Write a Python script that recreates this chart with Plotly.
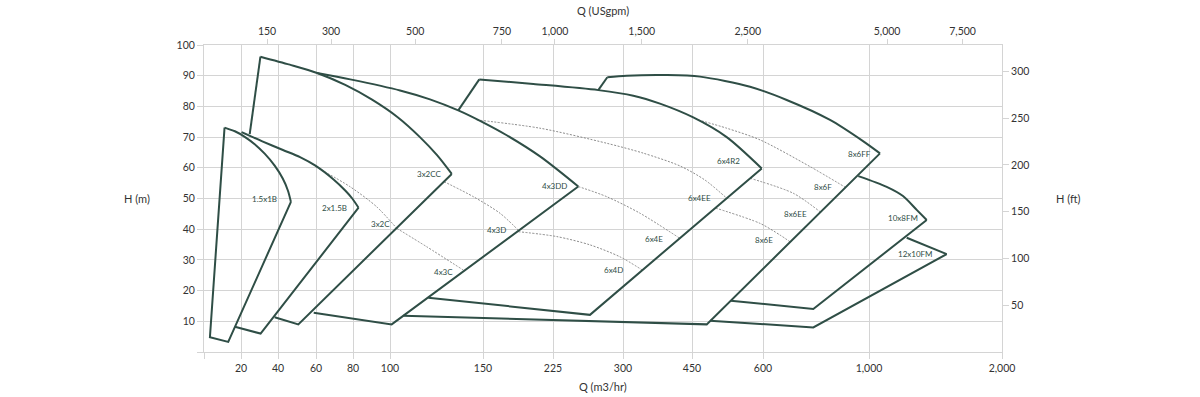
import numpy as np
import plotly.graph_objects as go

# ---------------- scale definitions (chart's non-uniform flow axis) ----------------
Q_GRID = [0, 20, 40, 60, 80, 100, 150, 225, 300, 450, 600, 1000, 2000]
Q_GRID_POS = [0, 37, 74, 112, 149, 186, 279, 349, 419, 488, 559, 665, 798]
Q_TICK_TEXT = ["", "20", "40", "60", "80", "100", "150", "225", "300", "450", "600", "1,000", "2,000"]
GPM_TICKS = [150, 300, 500, 750, 1000, 1500, 2500, 5000, 7500]
GPM_TICK_TEXT = ["150", "300", "500", "750", "1,000", "1,500", "2,500", "5,000", "7,500"]
H_TICKS = [0, 10, 20, 30, 40, 50, 60, 70, 80, 90, 100]
H_TICK_TEXT = ["", "10", "20", "30", "40", "50", "60", "70", "80", "90", "100"]
FT_TICKS = [50, 100, 150, 200, 250, 300]
M3H_TO_GPM = 4.40287
M_TO_FT = 3.28084

# ---------------- bold envelope curves (Q m3/hr, H m) ----------------
B_15X1B_Q = [11.1, 16.7, 22.0, 27.4, 32.8, 38.2, 42.5, 45.2, 46.8]
B_15X1B_H = [73.1, 71.9, 70.1, 67.7, 64.6, 60.7, 56.5, 52.6, 48.9]
E_15X1B_Q = [11.1, 3.2, 13.1, 46.8]
E_15X1B_H = [73.1, 4.8, 3.3, 48.9]

B_2X15B_Q = [20.3, 31.2, 42.6, 51.6, 59.7, 69.5, 75.8, 79.6, 83.0]
B_2X15B_H = [71.6, 68.7, 65.8, 63.5, 60.7, 56.2, 52.6, 50.0, 47.0]
E_2X15B_Q = [83.0, 30.6, 16.7]
E_2X15B_H = [47.0, 6.0, 8.2]

B_3X2CC_Q = [30.5, 46.2, 60.6, 75.8, 90.3, 104.3, 116.1, 125.3, 133.2]
B_3X2CC_H = [96.2, 93.6, 90.9, 87.0, 82.2, 76.4, 70.0, 64.1, 58.0]
L_3X2CC_Q = [24.7, 30.5]
L_3X2CC_H = [71.0, 96.2]
E_3X2CC_Q = [133.2, 50.7, 38.2]
E_3X2CC_H = [58.0, 9.0, 11.3]

B_4X3DD_Q = [60.6, 78.5, 105.4, 121.5, 136.7, 150.0, 175.4, 211.1, 252.1]
B_4X3DD_H = [90.9, 88.8, 85.2, 82.3, 78.7, 74.8, 70.6, 63.7, 53.9]
E_4X3DD_Q = [252.1, 100.9, 58.8]
E_4X3DD_H = [53.9, 9.0, 12.8]

B_6X4R2_Q = [148.0, 203.9, 273.5, 322.4, 380.4, 452.7, 523.3, 597.3]
B_6X4R2_H = [88.8, 87.3, 85.3, 83.5, 80.9, 76.4, 70.0, 59.8]
L_6X4R2_Q = [136.7, 148.0]
L_6X4R2_H = [78.7, 88.8]
E_6X4R2_Q = [597.3, 264.6, 120.6]
E_6X4R2_H = [59.8, 12.1, 17.7]

B_8X6FF_Q = [283.2, 308.0, 395.0, 466.9, 572.6, 689.4, 852.9, 977.4, 1082.7]
B_8X6FF_H = [89.5, 90.0, 90.2, 89.7, 86.4, 82.1, 75.6, 68.7, 64.7]
L_8X6FF_Q = [273.5, 283.2]
L_8X6FF_H = [85.3, 89.5]
E_8X6FF_Q = [1082.7, 481.1, 107.2]
E_8X6FF_H = [64.7, 9.0, 11.8]

B_10X8FM_Q = [959.7, 1133.1, 1255.6, 1358.7, 1433.8]
B_10X8FM_H = [57.3, 53.8, 50.8, 46.3, 43.0]
E_10X8FM_Q = [1433.8, 789.8, 532.0]
E_10X8FM_H = [43.0, 14.0, 16.7]

B_12X10FM_Q = [1283.5, 1584.2]
B_12X10FM_H = [37.2, 31.9]
E_12X10FM_Q = [1584.2, 789.8, 488.0]
E_12X10FM_H = [31.9, 8.0, 10.2]

# ---------------- thin (reduced impeller) curves ----------------
T_3X2C_Q = [59.7, 78.5, 92.8, 103.6]
T_3X2C_H = [60.4, 53.8, 47.3, 40.3]
T_4X3C_Q = [103.6, 119.7, 139.4]
T_4X3C_H = [40.3, 34.3, 26.7]
T_4X3D_Q = [129.0, 144.8, 168.2, 187.8]
T_4X3D_H = [55.5, 50.6, 45.2, 39.7]
T_6X4D_Q = [187.8, 229.0, 264.6, 296.8, 342.0]
T_6X4D_H = [39.2, 37.6, 34.9, 31.0, 26.7]
T_6X4E_Q = [252.1, 282.5, 337.0, 423.9]
T_6X4E_H = [53.9, 50.6, 45.2, 37.0]
T_6X4EE_Q = [146.6, 211.1, 282.5, 343.5, 423.9, 477.5, 523.3]
T_6X4EE_H = [75.6, 72.9, 68.0, 64.8, 60.6, 56.0, 50.1]
T_8X6E_Q = [499.7, 593.7, 664.2, 701.9]
T_8X6E_H = [46.9, 41.9, 38.1, 35.9]
T_8X6F_Q = [463.3, 523.3, 593.7, 777.4, 911.7]
T_8X6F_H = [75.6, 72.9, 69.1, 60.4, 53.6]
T_8X6EE_Q = [572.6, 714.4, 815.1]
T_8X6EE_H = [56.6, 51.7, 45.7]


def xpos(q):
    return np.interp(np.asarray(q, dtype=float), Q_GRID, Q_GRID_POS)


GREEN = "#2f4e46"
GRID = "#d4d4d4"
TXT = "#333333"
FONT = "Lato"

fig = go.Figure()


def add(q, h, bold=True, spline=False):
    if bold:
        line = dict(color=GREEN, width=2)
    else:
        line = dict(color="#767676", width=0.85, dash="2px,1.5px")
    line["shape"] = "spline" if spline else "linear"
    if spline:
        line["smoothing"] = 0.8
    fig.add_trace(go.Scatter(x=xpos(q), y=h, mode="lines", line=line,
                             hoverinfo="skip", showlegend=False))


# (curve, label, xshift, yshift)
bold_curves = [
    (B_15X1B_Q, B_15X1B_H, "1.5x1B", -12, 3),
    (B_2X15B_Q, B_2X15B_H, "2x1.5B", -10, 0),
    (B_3X2CC_Q, B_3X2CC_H, "3x2CC", -9, 0),
    (B_4X3DD_Q, B_4X3DD_H, "4x3DD", -9, 1),
    (B_6X4R2_Q, B_6X4R2_H, "6x4R2", -20, 7),
    (B_8X6FF_Q, B_8X6FF_H, "8x6FF", -7, -1),
    (B_10X8FM_Q, B_10X8FM_H, "10x8FM", -7, 2),
    (B_12X10FM_Q, B_12X10FM_H, "12x10FM", -12, 0),
]
bold_edges = [
    (E_15X1B_Q, E_15X1B_H), (E_2X15B_Q, E_2X15B_H), (L_3X2CC_Q, L_3X2CC_H),
    (E_3X2CC_Q, E_3X2CC_H), (E_4X3DD_Q, E_4X3DD_H), (L_6X4R2_Q, L_6X4R2_H),
    (E_6X4R2_Q, E_6X4R2_H), (L_8X6FF_Q, L_8X6FF_H), (E_8X6FF_Q, E_8X6FF_H),
    (E_10X8FM_Q, E_10X8FM_H), (E_12X10FM_Q, E_12X10FM_H),
]
thin_curves = [
    (T_3X2C_Q, T_3X2C_H, "3x2C", -5, 4),
    (T_4X3C_Q, T_4X3C_H, "4x3C", -8, -2),
    (T_4X3D_Q, T_4X3D_H, "4x3D", -10, 0),
    (T_6X4D_Q, T_6X4D_H, "6x4D", -17, 0),
    (T_6X4E_Q, T_6X4E_H, "6x4E", -15, -1),
    (T_6X4EE_Q, T_6X4EE_H, "6x4EE", -14, 0),
    (T_8X6E_Q, T_8X6E_H, "8x6E", -15, 2),
    (T_8X6F_Q, T_8X6F_H, "8x6F", -12, 0),
    (T_8X6EE_Q, T_8X6EE_H, "8x6EE", -11, -2),
]

for q, h, *_ in thin_curves:
    add(q, h, bold=False, spline=True)
for q, h in bold_edges:
    add(q, h, bold=True)
for q, h, *_ in bold_curves:
    add(q, h, bold=True, spline=len(q) > 2)

annotations = []
for q, h, name, dx, dy in bold_curves + thin_curves:
    annotations.append(dict(x=float(xpos(q[-1])), y=h[-1], xref="x", yref="y", text=name,
                            showarrow=False, xanchor="right", yanchor="middle",
                            xshift=dx, yshift=dy,
                            font=dict(family=FONT, size=8, color=GREEN)))

# axis titles
for text, x, y in [("Q (m3/hr)", 0.5, -0.114), ("Q (USgpm)", 0.5, 1.114),
                   ("H (m)", -0.084, 0.5), ("H (ft)", 1.083, 0.5)]:
    annotations.append(dict(x=x, y=y, xref="paper", yref="paper", text=text, showarrow=False,
                            xanchor="center", yanchor="middle",
                            font=dict(family=FONT, size=11, color=TXT)))

# hidden traces so the secondary axes render
fig.add_trace(go.Scatter(x=[0], y=[0], xaxis="x2", yaxis="y", mode="markers",
                         marker=dict(opacity=0), hoverinfo="skip", showlegend=False))
fig.add_trace(go.Scatter(x=[0], y=[0], xaxis="x", yaxis="y2", mode="markers",
                         marker=dict(opacity=0), hoverinfo="skip", showlegend=False))

XR = [0, Q_GRID_POS[-1]]
tickfont = dict(family=FONT, size=10.5, color=TXT)
fig.update_layout(
    width=1200, height=397,
    margin=dict(l=204, r=198, t=45, b=45),
    paper_bgcolor="white", plot_bgcolor="white",
    hovermode=False,
    annotations=annotations,
    xaxis=dict(range=XR, tickvals=Q_GRID_POS, ticktext=Q_TICK_TEXT,
               showgrid=True, gridcolor=GRID, gridwidth=1, zeroline=False,
               showline=True, linecolor=GRID, mirror=True,
               ticks="outside", ticklen=6, tickcolor=GRID, tickfont=tickfont, fixedrange=True),
    xaxis2=dict(range=XR, overlaying="x", side="top", anchor="y",
                tickvals=list(xpos(np.array(GPM_TICKS) / M3H_TO_GPM)), ticktext=GPM_TICK_TEXT,
                showgrid=False, zeroline=False, showline=False,
                ticks="outside", ticklen=5, tickcolor=GRID, tickfont=tickfont, fixedrange=True),
    yaxis=dict(range=[0, 100], tickvals=H_TICKS, ticktext=H_TICK_TEXT,
               showgrid=True, gridcolor=GRID, gridwidth=1, zeroline=False,
               showline=True, linecolor=GRID, mirror=True,
               ticks="outside", ticklen=6, tickcolor=GRID, tickfont=tickfont, fixedrange=True),
    yaxis2=dict(range=[0, 100 * M_TO_FT], overlaying="y", side="right", anchor="x",
                tickvals=FT_TICKS, showgrid=False, zeroline=False, showline=False,
                ticks="outside", ticklen=6, tickcolor=GRID, tickfont=tickfont, fixedrange=True),
)

fig.write_html("out.html", config={"displayModeBar": False},
               post_script="document.body.style.margin='0';document.body.style.padding='0';")
